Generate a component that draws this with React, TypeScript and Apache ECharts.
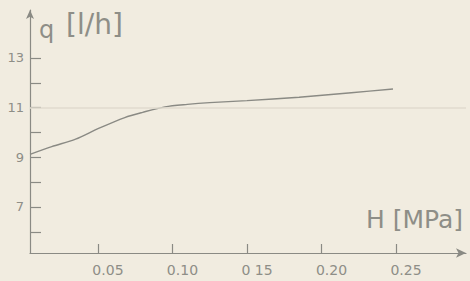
import React, { useEffect, useRef } from "react";
import * as echarts from "echarts";

const pressure = [0.0044, 0.019, 0.035, 0.05, 0.068, 0.08, 0.095, 0.11, 0.125, 0.15, 0.185, 0.22, 0.248];
const flow = [9.12, 9.43, 9.73, 10.15, 10.6, 10.81, 11.03, 11.13, 11.2, 11.28, 11.42, 11.6, 11.75];
const xTickValues = [0.05, 0.1, 0.15, 0.2, 0.25];
const xTickLabels = ["0.05", "0.10", "0 15", "0.20", "0.25"];
const yTickValues = [6, 7, 8, 9, 10, 11, 12, 13];
const yLabelValues = [7, 9, 11, 13];

const INK = "#8a8a84";
const TEXT = "#8e8e87";
const FONT = "DejaVu Sans";

export default function App() {
  const ref = useRef<HTMLDivElement>(null);
  useEffect(() => {
    if (!ref.current) return;
    const chart = echarts.init(ref.current, undefined, { renderer: "svg" });
    chart.setOption({
      animation: false,
      backgroundColor: "#f1ece0",
      grid: { left: 30, right: 4, top: 10, bottom: 28 },
      xAxis: {
        type: "value",
        min: 0.0044,
        max: 0.297,
        splitLine: { show: false },
        axisLine: {
          show: true,
          lineStyle: { color: INK, width: 1.2 },
          symbol: ["none", "arrow"],
          symbolSize: [7, 10],
        },
        axisTick: {
          show: true,
          inside: true,
          length: 9,
          customValues: xTickValues,
          lineStyle: { color: INK, width: 1.2 },
        },
        axisLabel: {
          customValues: xTickValues,
          formatter: (v: number) => {
            const i = xTickValues.findIndex((t) => Math.abs(t - v) < 1e-6);
            return i >= 0 ? xTickLabels[i] : "";
          },
          color: TEXT,
          fontFamily: FONT,
          fontSize: 14,
          margin: 10,
          padding: [0, 0, 0, 20],
        },
      },
      yAxis: {
        type: "value",
        min: 5.147,
        max: 14.93,
        splitLine: { show: false },
        axisLine: {
          show: true,
          lineStyle: { color: INK, width: 1.2 },
          symbol: ["none", "arrow"],
          symbolSize: [6, 9],
        },
        axisTick: {
          show: true,
          inside: true,
          length: 11,
          customValues: yTickValues,
          lineStyle: { color: INK, width: 1.2 },
        },
        axisLabel: {
          customValues: yLabelValues,
          color: TEXT,
          fontFamily: FONT,
          fontSize: 13,
          margin: 6,
          padding: [0, 0, 8, 0],
        },
      },
      series: [
        {
          type: "line",
          data: pressure.map((x, i) => [x, flow[i]]),
          smooth: 0.3,
          showSymbol: false,
          lineStyle: { color: INK, width: 1.4 },
          markLine: {
            silent: true,
            symbol: ["none", "none"],
            label: { show: false },
            lineStyle: { color: "#e0dbcf", width: 1.5, type: "solid" },
            data: [{ yAxis: 11 }],
          },
        },
      ],
      graphic: [
        {
          type: "text",
          left: 39,
          top: 18,
          style: { text: "q", fill: TEXT, font: `24px "${FONT}"` },
        },
        {
          type: "text",
          left: 66,
          top: 10,
          style: { text: "[l/h]", fill: TEXT, font: `28px "${FONT}"` },
        },
        {
          type: "text",
          left: 366,
          top: 207,
          style: { text: "H [MPa]", fill: TEXT, font: `25px "${FONT}"` },
        },
      ],
    });
    return () => chart.dispose();
  }, []);
  return <div ref={ref} style={{ width: 470, height: 281, position: "fixed", left: 0, top: 0 }} />;
}
